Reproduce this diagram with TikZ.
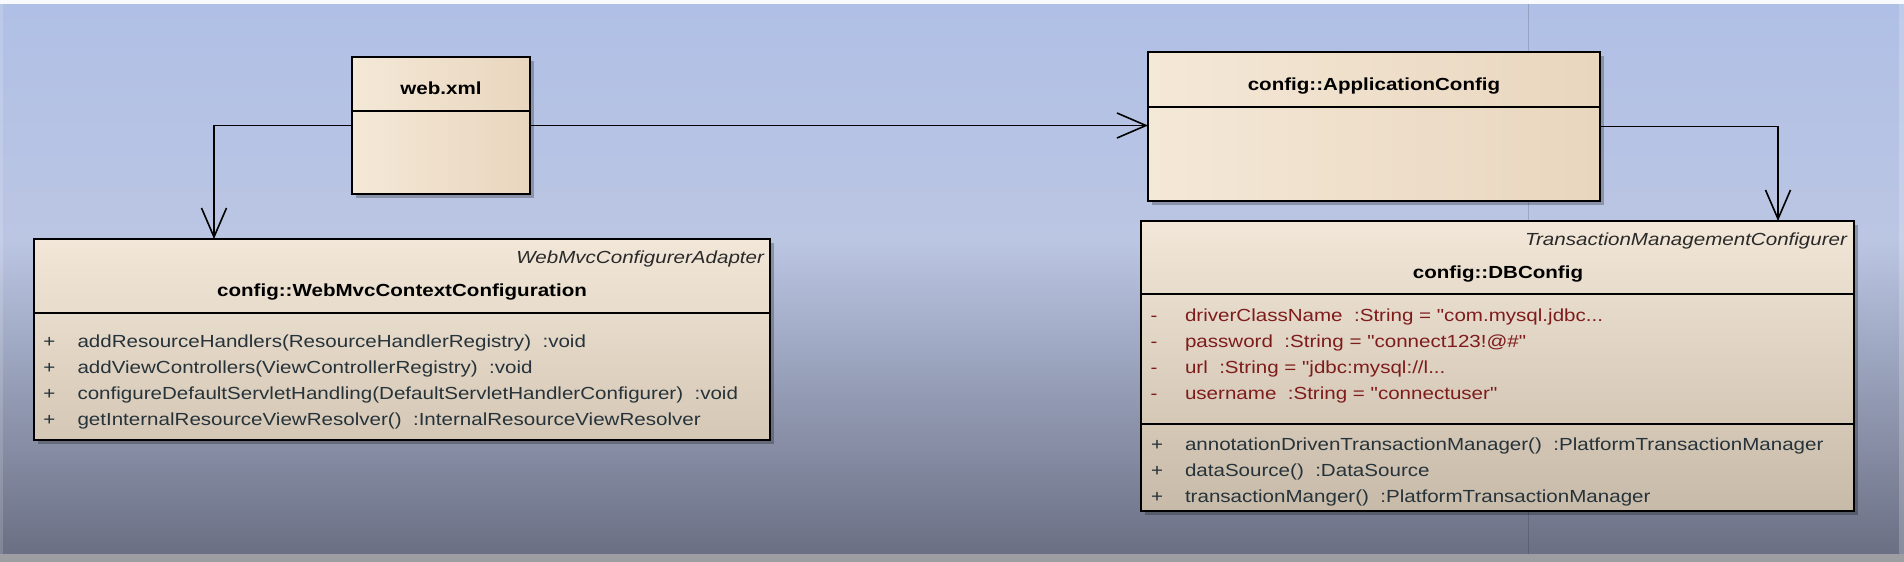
\documentclass[tikz,border=0pt]{standalone}
\usepackage{fontspec}
\setmainfont{Liberation Sans}[Ligatures=TeXOff]
\usepackage{graphicx}
\usetikzlibrary{arrows.meta,shadows,calc}
\definecolor{bgA}{HTML}{B0BFE5}
\definecolor{bgB}{HTML}{BBC6E3}
\definecolor{bgM}{HTML}{959DB5}
\definecolor{bgC}{HTML}{6A6F83}
\definecolor{bgbar}{HTML}{9C9EA2}
\definecolor{memc}{HTML}{26333A}
\definecolor{attc}{HTML}{7E1C1C}
\definecolor{stc}{HTML}{2A2A2A}
\definecolor{crL}{HTML}{F4E8D7}
\definecolor{crM}{HTML}{FEF3E6}
\definecolor{crR}{HTML}{E9D6BE}
\definecolor{crT}{HTML}{F2E7D8}
\definecolor{crB}{HTML}{D5C7B5}
\definecolor{crB2}{HTML}{C8BAA8}
\newcommand{\wx}[1]{\scalebox{1.175}[1]{#1}}
\begin{document}
\begin{tikzpicture}[x=1pt,y=-1pt,
  umlbox/.style={rectangle, draw=black, line width=1.6pt, inner sep=0pt, outer sep=0pt,
    drop shadow={shadow xshift=4pt, shadow yshift=-4pt, opacity=0.25, fill=black}},
  lightbox/.style={umlbox, left color=crL, middle color=crM, right color=crR},
  bigbox/.style={umlbox, top color=crT, bottom color=crB},
  divider/.style={draw=black, line width=1.6pt},
  lbl/.style={font=\fontsize{17.5}{21}\selectfont, inner sep=0pt, outer sep=0pt},
  title/.style={lbl, anchor=base, text=black, font=\fontsize{17.5}{21}\selectfont\bfseries},
  stereo/.style={lbl, anchor=base east, text=stc, font=\fontsize{17.5}{21}\selectfont\itshape},
  mem/.style={lbl, anchor=base west, text=memc},
  sign/.style={lbl, anchor=base, text=memc},
  att/.style={lbl, anchor=base west, text=attc},
  asign/.style={lbl, anchor=base, text=attc},
  arr/.style={draw=black, line width=1.6pt, -{Straight Barb[length=29pt,width=25pt]}}
]
\useasboundingbox (0,0) rectangle (1904,562);
% background
\fill[white!93!bgA] (0,0) rectangle (1904,4);
\shade[top color=bgA, bottom color=bgB] (0,4) rectangle (1904,241);
\shade[top color=bgB, middle color=bgM, bottom color=bgC] (0,240) rectangle (1904,555);
\fill[bgbar] (0,554) rectangle (1904,562);
\fill[white, opacity=0.15] (0,4) rectangle (3,554);
\fill[white, opacity=0.2] (1899,4) rectangle (1904,554);
\draw[black, opacity=0.15, line width=1pt] (1528,4) -- (1528,554);

% boxes
\node[lightbox, minimum width=178pt, minimum height=137pt] (web) at (441,125.5) {};
\node[lightbox, minimum width=452pt, minimum height=149pt] (appc) at (1374,126.5) {};
\node[bigbox, minimum width=736pt, minimum height=201pt] (wmc) at (402,339.5) {};
\node[umlbox, top color=crT, bottom color=crB2, minimum width=713pt, minimum height=290pt] (db) at (1497.5,366) {};

% dividers
\draw[divider] (web.west |- 0,110.7) -- (web.east |- 0,110.7);
\draw[divider] (appc.west |- 0,107) -- (appc.east |- 0,107);
\draw[divider] (wmc.west |- 0,312.7) -- (wmc.east |- 0,312.7);
\draw[divider] (db.west |- 0,294) -- (db.east |- 0,294);
\draw[divider] (db.west |- 0,424) -- (db.east |- 0,424);

% titles
\node[title] (tweb) at (441,94) {\wx{web.xml}};
\node[title] (tapp) at (1374,90.7) {\wx{config::ApplicationConfig}};
\node[stereo] (swmc) at (764,263) {\wx{WebMvcConfigurerAdapter}};
\node[title] (twmc) at (402,296) {\wx{config::WebMvcContextConfiguration}};
\node[stereo] (sdb) at (1847,245.7) {\wx{TransactionManagementConfigurer}};
\node[title] (tdb) at (1498,278) {\wx{config::DBConfig}};

% WebMvc members
\node[sign] (wp1) at (49.5,347.7) {\wx{+}};
\node[sign] (wp2) at (49.5,373.7) {\wx{+}};
\node[sign] (wp3) at (49.5,399.7) {\wx{+}};
\node[sign] (wp4) at (49.5,425.7) {\wx{+}};
\node[mem] (wm1) at (77.5,347.7) {\wx{addResourceHandlers(ResourceHandlerRegistry)~~:void}};
\node[mem] (wm2) at (77.5,373.7) {\wx{addViewControllers(ViewControllerRegistry)~~:void}};
\node[mem] (wm3) at (77.5,399.7) {\wx{configureDefaultServletHandling(DefaultServletHandlerConfigurer)~~:void}};
\node[mem] (wm4) at (77.5,425.7) {\wx{getInternalResourceViewResolver()~~:InternalResourceViewResolver}};

% DBConfig attributes
\node[asign] (dm1) at (1154,321.7) {\wx{-}};
\node[asign] (dm2) at (1154,347.7) {\wx{-}};
\node[asign] (dm3) at (1154,373.3) {\wx{-}};
\node[asign] (dm4) at (1154,399.3) {\wx{-}};
\node[att] (da1) at (1185,321.7) {\wx{driverClassName~~:String = "com.mysql.jdbc...}};
\node[att] (da2) at (1185,347.7) {\wx{password~~:String = "connect123!@\#"}};
\node[att] (da3) at (1185,373.3) {\wx{url~~:String = "jdbc:mysql://l...}};
\node[att] (da4) at (1185,399.3) {\wx{username~~:String = "connectuser"}};

% DBConfig operations
\node[sign] (dp1) at (1157,450.7) {\wx{+}};
\node[sign] (dp2) at (1157,476.7) {\wx{+}};
\node[sign] (dp3) at (1157,502.7) {\wx{+}};
\node[mem] (do1) at (1185,450.7) {\wx{annotationDrivenTransactionManager()~~:PlatformTransactionManager}};
\node[mem] (do2) at (1185,476.7) {\wx{dataSource()~~:DataSource}};
\node[mem] (do3) at (1185,502.7) {\wx{transactionManger()~~:PlatformTransactionManager}};

% connectors
\coordinate (k1) at (214,0);
\coordinate (k2) at (1778,0);
\draw[arr] (web.west) -| (wmc.north -| k1);
\draw[arr] (web.east) -- (web.east -| appc.west);
\draw[arr] (appc.east) -| (db.north -| k2);
\end{tikzpicture}
\end{document}
